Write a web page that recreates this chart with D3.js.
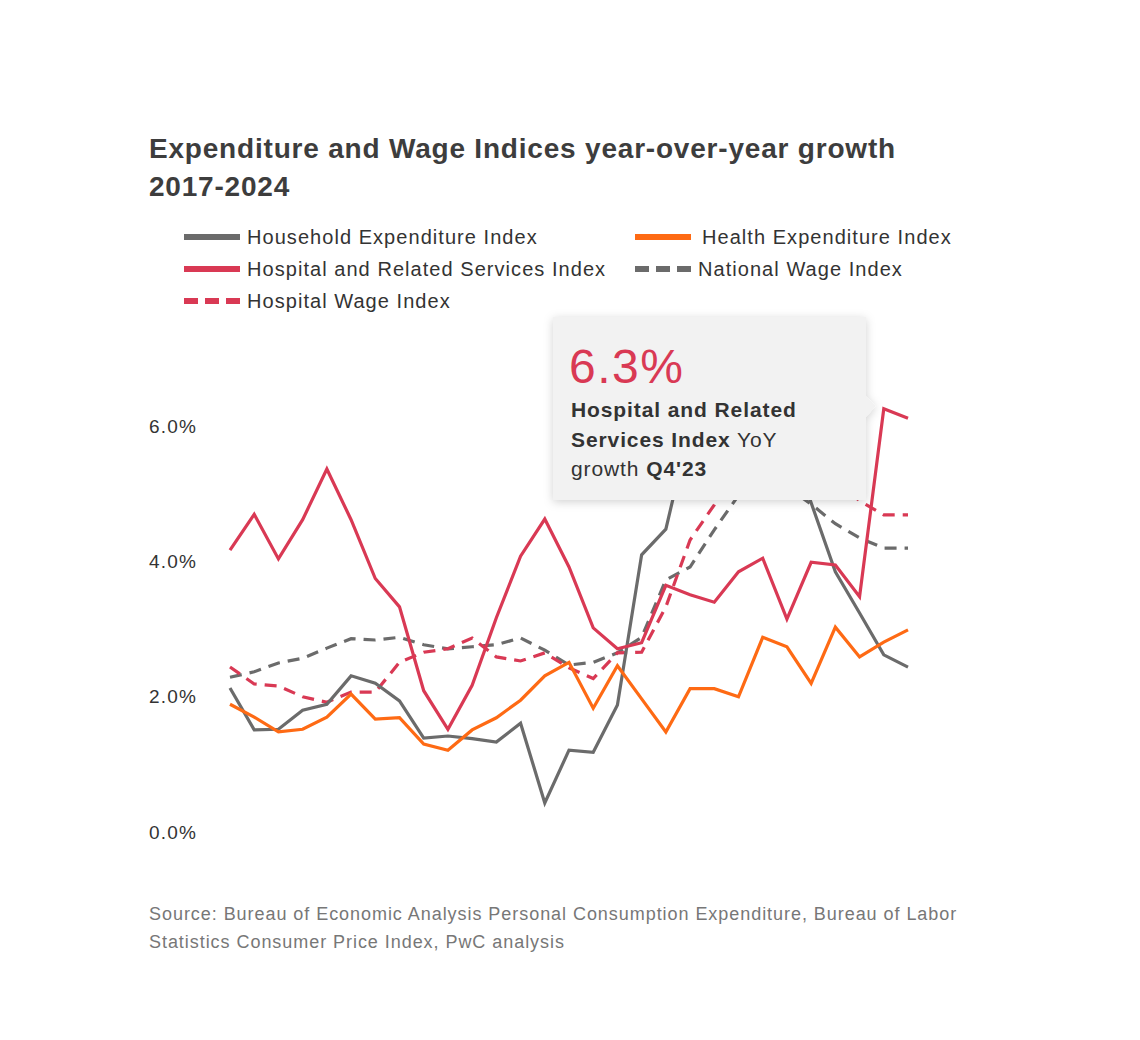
<!DOCTYPE html>
<html>
<head>
<meta charset="utf-8">
<script src="https://cdn.jsdelivr.net/npm/d3@7/dist/d3.min.js"></script>
<style>
  body { margin: 0; background: #fff; }
  svg { display: block; font-family: "Liberation Sans", Arial, Helvetica, sans-serif; }
</style>
</head>
<body>
<svg id="chart" width="1140" height="1040"></svg>
<script>
const quarters = ["Q1'17","Q2'17","Q3'17","Q4'17","Q1'18","Q2'18","Q3'18","Q4'18",
  "Q1'19","Q2'19","Q3'19","Q4'19","Q1'20","Q2'20","Q3'20","Q4'20",
  "Q1'21","Q2'21","Q3'21","Q4'21","Q1'22","Q2'22","Q3'22","Q4'22",
  "Q1'23","Q2'23","Q3'23","Q4'23","Q1'24"];

const householdExpenditure = [2.13,1.51,1.52,1.80,1.89,2.31,2.20,1.94,1.39,1.42,1.38,1.33,1.61,0.43,1.21,1.18,1.88,4.10,4.48,6.0,6.4,6.7,6.4,5.9,4.87,3.85,3.24,2.62,2.44];
const healthExpenditure = [1.89,1.70,1.48,1.52,1.70,2.04,1.67,1.69,1.30,1.21,1.51,1.69,1.95,2.31,2.51,1.83,2.46,1.97,1.48,2.12,2.12,2.00,2.88,2.74,2.20,3.03,2.59,2.81,2.99];
const hospitalServices = [4.17,4.70,4.04,4.62,5.37,4.62,3.75,3.33,2.09,1.52,2.17,3.17,4.08,4.63,3.92,3.02,2.71,2.80,3.65,3.51,3.40,3.85,4.05,3.15,3.99,3.95,3.48,6.26,6.12];
const nationalWage = [2.29,2.37,2.50,2.57,2.72,2.86,2.84,2.88,2.77,2.71,2.74,2.77,2.87,2.69,2.47,2.51,2.65,2.88,3.73,3.92,4.47,4.98,5.2,5.1,4.85,4.56,4.35,4.20,4.20];
const hospitalWage = [2.44,2.19,2.16,2.00,1.92,2.07,2.07,2.51,2.66,2.71,2.87,2.59,2.53,2.65,2.43,2.27,2.65,2.66,3.33,4.32,4.84,5.5,5.8,5.8,5.5,5.2,4.9,4.69,4.69];

const yTicks = [0, 2, 4, 6];
const seriesNames = ["Household Expenditure Index","Health Expenditure Index","Hospital and Related Services Index","National Wage Index","Hospital Wage Index"];

const grey = "#6b6b6b", orange = "#fe6a14", red = "#d93954";

const series = [
  {name: seriesNames[3], values: nationalWage, color: grey, dash: "12,8"},
  {name: seriesNames[4], values: hospitalWage, color: red, dash: "12,8"},
  {name: seriesNames[0], values: householdExpenditure, color: grey, dash: null},
  {name: seriesNames[1], values: healthExpenditure, color: orange, dash: null},
  {name: seriesNames[2], values: hospitalServices, color: red, dash: null}
];

const svg = d3.select("#chart");

// Title
const title = svg.append("text").attr("x", 149).attr("y", 158)
  .attr("font-size", 28).attr("font-weight", "bold").attr("fill", "#3d3d3d")
  .attr("letter-spacing", 0.8);
title.append("tspan").attr("x", 149).attr("dy", 0).text("Expenditure and Wage Indices year-over-year growth");
title.append("tspan").attr("x", 149).attr("dy", 38).text("2017-2024");

// Legend
const legendItems = [
  {name: seriesNames[0], color: grey, dashed: false, sx: 184, tx: 247, y: 237},
  {name: seriesNames[1], color: orange, dashed: false, sx: 635, tx: 702, y: 237},
  {name: seriesNames[2], color: red, dashed: false, sx: 184, tx: 247, y: 269},
  {name: seriesNames[3], color: grey, dashed: true, sx: 635, tx: 698, y: 269},
  {name: seriesNames[4], color: red, dashed: true, sx: 184, tx: 247, y: 301}
];
const lg = svg.append("g");
legendItems.forEach(d => {
  lg.append("line").attr("x1", d.sx).attr("x2", d.sx + 56).attr("y1", d.y).attr("y2", d.y)
    .attr("stroke", d.color).attr("stroke-width", 6)
    .attr("stroke-dasharray", d.dashed ? "14,7" : null);
  lg.append("text").attr("x", d.tx).attr("y", d.y + 7).attr("font-size", 20)
    .attr("letter-spacing", 1.05)
    .attr("fill", "#333").text(d.name);
});

// Scales
const x = d3.scalePoint().domain(quarters).range([230, 908]);
const y = d3.scaleLinear().domain([0, 6]).range([832, 426.4]);

// Y axis
const yAxis = d3.axisLeft(y).tickValues(yTicks).tickSize(0).tickPadding(8)
  .tickFormat(d => d3.format(".1f")(d) + "%");
const ag = svg.append("g").attr("transform", "translate(205,0)").call(yAxis);
ag.select(".domain").remove();
ag.selectAll("text").attr("font-size", 19).attr("fill", "#333")
  .attr("letter-spacing", 1.2)
  .attr("font-family", "Liberation Sans, Arial, sans-serif");

// Lines
const line = d3.line().x((d, i) => x(quarters[i])).y(d => y(d));
series.forEach(s => {
  svg.append("path").datum(s.values)
    .attr("d", line)
    .attr("fill", "none")
    .attr("stroke", s.color)
    .attr("stroke-width", 3.2)
    .attr("stroke-linejoin", "miter")
    .attr("stroke-dasharray", s.dash);
});

// Tooltip
const defs = svg.append("defs");
const f = defs.append("filter").attr("id", "shadow").attr("x", "-20%").attr("y", "-20%")
  .attr("width", "140%").attr("height", "140%");
f.append("feDropShadow").attr("dx", 0).attr("dy", 2).attr("stdDeviation", 5)
  .attr("flood-color", "#000").attr("flood-opacity", 0.18);

const tipIdx = 27;
const tipX = x(quarters[tipIdx]);
const tipY = y(hospitalServices[tipIdx]);
const tg = svg.append("g");
const bx = 553, by = 317, bw = 313, bh = 183;
tg.append("path")
  .attr("d", `M${bx},${by} H${bx + bw} V${tipY - 12} L${tipX - 8},${tipY - 3} L${bx + bw},${tipY + 8} V${by + bh} H${bx} Z`)
  .attr("fill", "#f2f2f2").attr("filter", "url(#shadow)");
tg.append("text").attr("x", 569).attr("y", 383).attr("font-size", 48)
  .attr("letter-spacing", 1.5)
  .attr("fill", red).text(d3.format(".1f")(hospitalServices[tipIdx]) + "%");
const tipText = [
  [{t: "Hospital and Related", b: true}],
  [{t: "Services Index", b: true}, {t: " YoY", b: false}],
  [{t: "growth ", b: false}, {t: quarters[tipIdx], b: true}]
];
tipText.forEach((parts, i) => {
  const t = tg.append("text").attr("x", 571).attr("y", 417 + i * 29.5).attr("font-size", 21)
    .attr("letter-spacing", 0.9).attr("fill", "#333");
  parts.forEach(p => t.append("tspan").attr("font-weight", p.b ? "bold" : "normal").text(p.t));
});

// Source
const src = svg.append("text").attr("x", 149).attr("y", 920).attr("font-size", 18)
  .attr("letter-spacing", 0.95).attr("fill", "#777");
src.append("tspan").attr("x", 149).text("Source: Bureau of Economic Analysis Personal Consumption Expenditure, Bureau of Labor");
src.append("tspan").attr("x", 149).attr("dy", 28).text("Statistics Consumer Price Index, PwC analysis");
</script>
</body>
</html>
